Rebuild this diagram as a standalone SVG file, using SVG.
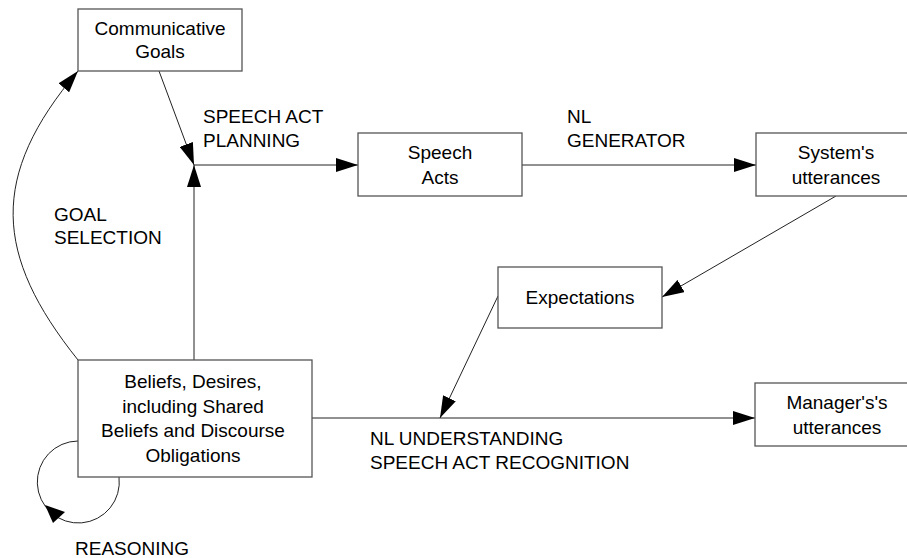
<svg xmlns="http://www.w3.org/2000/svg" width="907" height="558" viewBox="0 0 907 558">
  <style>
    .box { fill: #ffffff; stroke: #555555; stroke-width: 1.3; }
    .lbl { font-family: "Liberation Sans", Arial, sans-serif; font-size: 19px; fill: #000000; }
    .mid { text-anchor: middle; }
    .edge { fill: none; stroke: #222222; stroke-width: 1; }
  </style>
  <defs>
    <marker id="arrow" markerUnits="userSpaceOnUse" markerWidth="22" markerHeight="14" refX="22" refY="7" orient="auto">
      <path d="M0,0 L22,7 L0,14 Z" fill="#000000"/>
    </marker>
  </defs>
  <rect width="907" height="558" fill="#ffffff"/>

  <g id="connectors">
    <!-- goal selection: beliefs -> communicative goals -->
    <path class="edge" d="M78,360 C-6,255 -11,176 78,71" marker-end="url(#arrow)"/>
    <!-- communicative goals -> planning junction -->
    <line class="edge" x1="159" y1="71" x2="194" y2="165" marker-end="url(#arrow)"/>
    <!-- beliefs -> planning junction -->
    <line class="edge" x1="194" y1="360" x2="194" y2="165" marker-end="url(#arrow)"/>
    <!-- speech act planning -->
    <line class="edge" x1="194" y1="165" x2="358" y2="165" marker-end="url(#arrow)"/>
    <!-- NL generator -->
    <line class="edge" x1="522" y1="165" x2="756" y2="165" marker-end="url(#arrow)"/>
    <!-- system's utterances -> expectations -->
    <line class="edge" x1="836" y1="196" x2="662" y2="297" marker-end="url(#arrow)"/>
    <!-- expectations -> understanding -->
    <line class="edge" x1="498" y1="296" x2="440" y2="418" marker-end="url(#arrow)"/>
    <!-- NL understanding -->
    <line class="edge" x1="312" y1="418" x2="755" y2="418" marker-end="url(#arrow)"/>
    <!-- reasoning loop -->
    <path class="edge" d="M119,477 A41,41 0 1 1 78,441"/>
    <path d="M45,505 L65,512 L53,523 Z" fill="#000000"/>
  </g>

  <g id="communicative-goals">
    <rect class="box" x="78" y="9" width="164" height="62"/>
    <text class="lbl mid" x="160" y="35">Communicative</text>
    <text class="lbl mid" x="160" y="58">Goals</text>
  </g>

  <g id="speech-acts">
    <rect class="box" x="358" y="133" width="164" height="63"/>
    <text class="lbl mid" x="440" y="159">Speech</text>
    <text class="lbl mid" x="440" y="184">Acts</text>
  </g>

  <g id="system-utterances">
    <rect class="box" x="756" y="133" width="160" height="63"/>
    <text class="lbl mid" x="836" y="159">System's</text>
    <text class="lbl mid" x="836" y="184">utterances</text>
  </g>

  <g id="expectations">
    <rect class="box" x="498" y="267" width="164" height="61"/>
    <text class="lbl mid" x="580" y="304">Expectations</text>
  </g>

  <g id="beliefs">
    <rect class="box" x="78" y="360" width="234" height="117"/>
    <text class="lbl mid" x="193" y="388">Beliefs, Desires,</text>
    <text class="lbl mid" x="193" y="412.5">including Shared</text>
    <text class="lbl mid" x="193" y="437">Beliefs and Discourse</text>
    <text class="lbl mid" x="193" y="461.5">Obligations</text>
  </g>

  <g id="manager-utterances">
    <rect class="box" x="755" y="383" width="160" height="63"/>
    <text class="lbl mid" x="837" y="409">Manager's's</text>
    <text class="lbl mid" x="837" y="434">utterances</text>
  </g>

  <g id="edge-labels">
    <text class="lbl" x="203" y="123">SPEECH ACT</text>
    <text class="lbl" x="203" y="147">PLANNING</text>
    <text class="lbl" x="567" y="123">NL</text>
    <text class="lbl" x="567" y="147">GENERATOR</text>
    <text class="lbl" x="54" y="221">GOAL</text>
    <text class="lbl" x="54" y="244">SELECTION</text>
    <text class="lbl" x="370" y="445">NL UNDERSTANDING</text>
    <text class="lbl" x="370" y="469">SPEECH ACT RECOGNITION</text>
    <text class="lbl" x="75" y="555">REASONING</text>
  </g>
</svg>
